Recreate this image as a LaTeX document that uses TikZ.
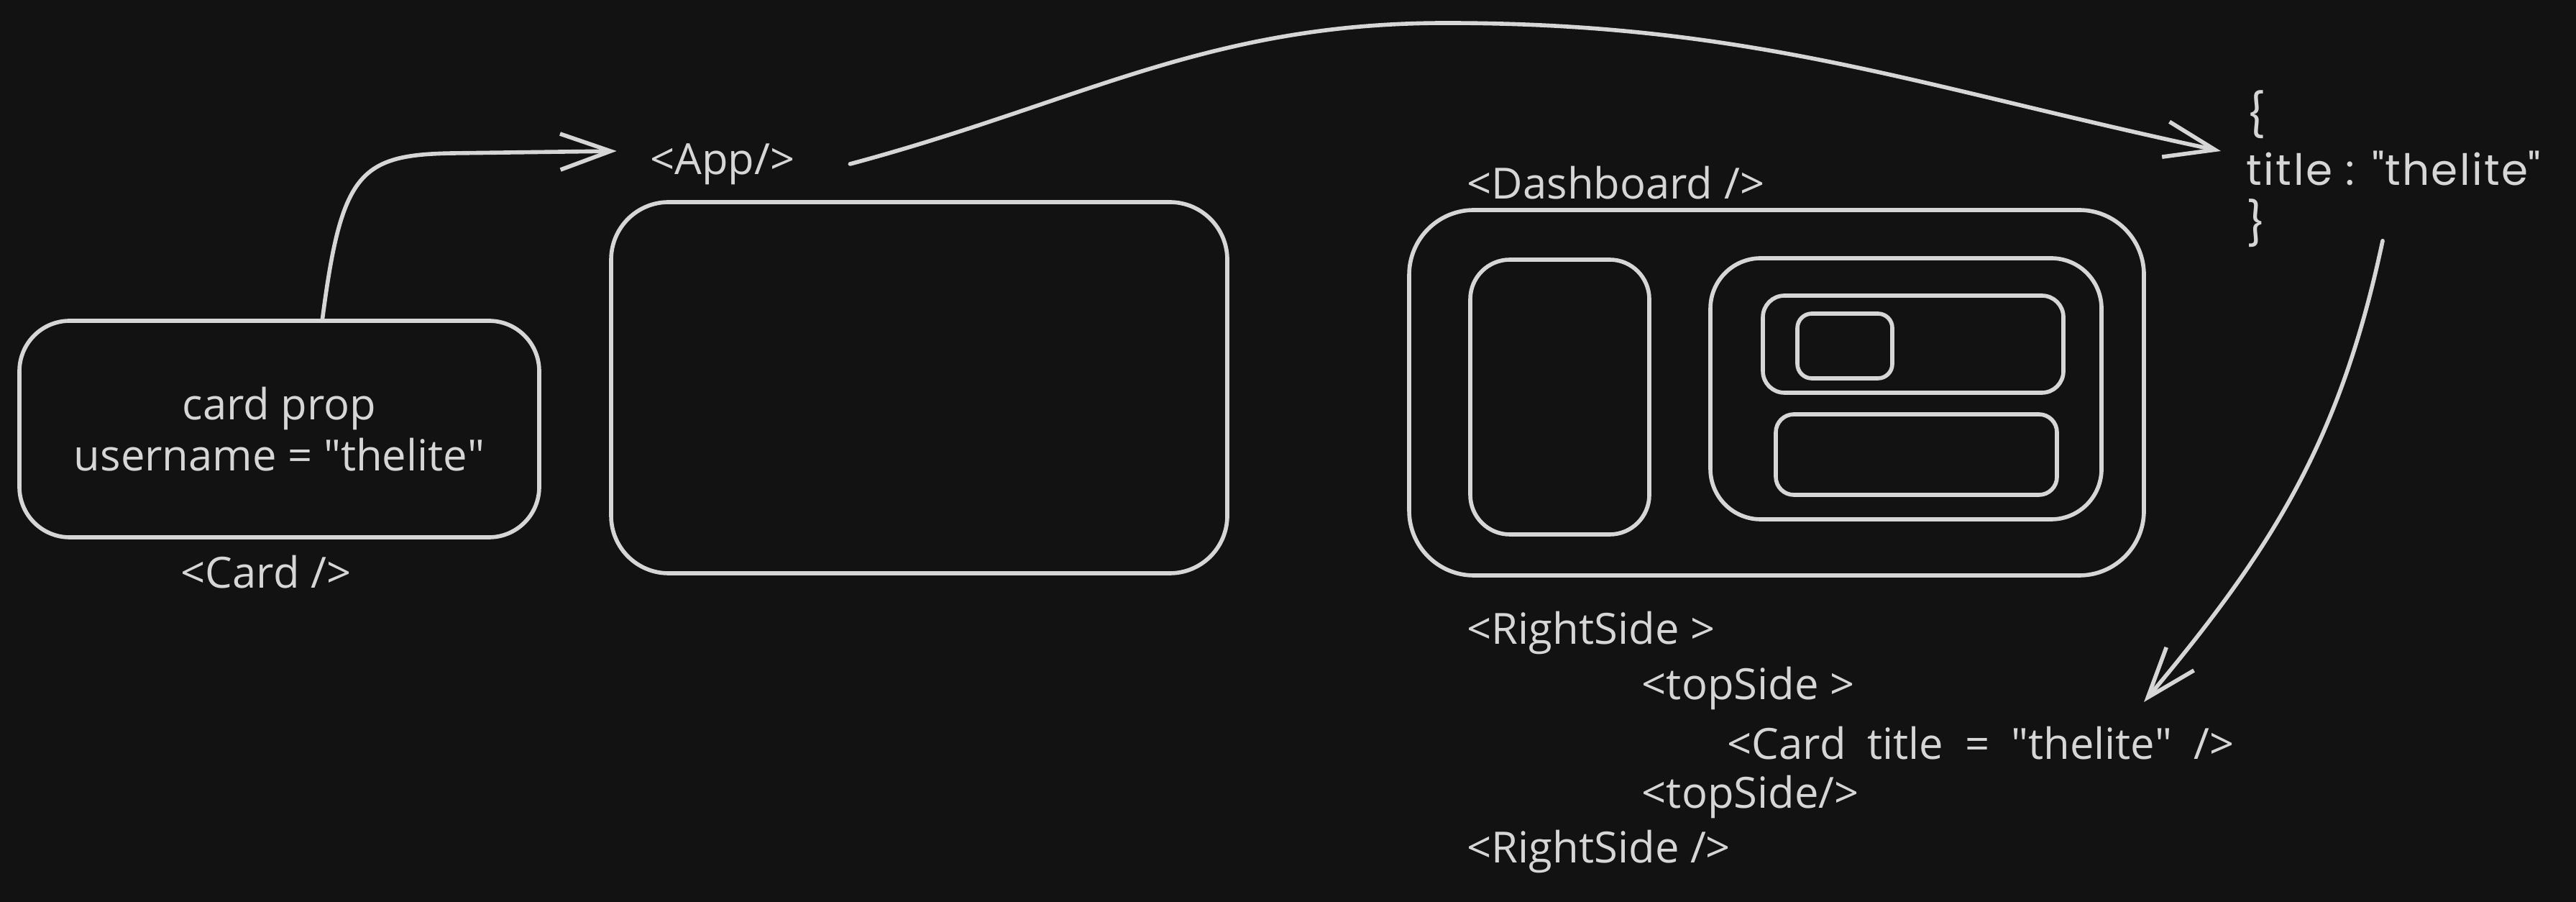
\documentclass[tikz,border=0pt]{standalone}
\usepackage{fontspec}
\setmainfont{Open Sans}[Ligatures=NoCommon]
\newfontfamily\jsonfont{Poppins}[LetterSpace=4]
\usepackage{tikz}
\usetikzlibrary{arrows.meta, positioning, calc}
\definecolor{sketchbg}{RGB}{18, 18, 18}
\definecolor{sketchink}{RGB}{214, 214, 214}
\newcommand{\quoted}[1]{\textquotedbl#1\textquotedbl}

\begin{document}
\begin{tikzpicture}[
    panel/.style={rectangle, rounded corners=#1, draw=sketchink, line width=1.6pt, inner sep=0pt},
    panel/.default=6mm,
    sketchtext/.style={text=sketchink, font=\fontsize{17}{20}\selectfont, inner sep=0pt},
    arr/.style={-{Straight Barb[length=7mm, width=5mm, line width=1.6pt]}, draw=sketchink, line width=1.6pt, line cap=round, line join=round}
]

\fill[sketchbg] (0, 0) rectangle (35.83, -12.54);
\useasboundingbox (0, 0) rectangle (35.83, -12.54);

% card component
\node[panel=7mm, minimum width=7.23cm, minimum height=3.01cm, sketchtext, align=center] (card) at (3.885, -5.965) {card prop\\username = \quoted{thelite}};
\node[sketchtext] (cardlabel) at (3.70, -7.95) {<Card />};

% app
\node[panel=8mm, minimum width=8.57cm, minimum height=5.16cm] (app) at (12.785, -5.39) {};
\node[sketchtext] (applabel) at (10.05, -2.28) {<App/>};

% dashboard and its panes
\node[panel=9mm, minimum width=10.22cm, minimum height=5.08cm] (dash) at (24.71, -5.46) {};
\node[sketchtext, anchor=west] (dashlabel) at (20.40, -2.54) {<Dashboard />};
\node[panel=5.5mm, minimum width=2.49cm, minimum height=3.82cm] (leftpane) at (21.695, -5.52) {};
\node[panel=7mm, minimum width=5.44cm, minimum height=3.63cm] (rightpane) at (26.51, -5.405) {};
\node[panel=3mm, minimum width=4.18cm, minimum height=1.35cm] (toppane) at (26.61, -4.785) {};
\node[panel=2mm, minimum width=1.32cm, minimum height=0.90cm] (smallbox) at (25.66, -4.81) {};
\node[panel=2.5mm, minimum width=3.91cm, minimum height=1.12cm] (bottompane) at (26.655, -6.32) {};

% props object
\node[sketchtext, align=left, anchor=west, font=\jsonfont\fontsize{17}{21.5}\selectfont] (json) at (31.24, -2.35) {\{\\title : \quoted{thelite}\\\}};

% nesting
\node[sketchtext, anchor=west] (rightopen) at (20.40, -8.80) {<RightSide >};
\node[sketchtext, anchor=west] (topopen) at (22.83, -9.57) {<topSide >};
\node[sketchtext, anchor=west, font={\fontsize{17}{20}\selectfont\spaceskip=0.5em\relax}] (cardtag) at (24.02, -10.33) {<Card title = \quoted{thelite} />};
\node[sketchtext, anchor=west] (topclose) at (22.83, -11.08) {<topSide/>};
\node[sketchtext, anchor=west] (rightclose) at (20.40, -11.84) {<RightSide />};

\coordinate (crest) at (20.11, -0.32);
\coordinate (drop) at (29.82, -9.76);

\draw[arr] ([xshift=6mm]card.north) .. controls (4.75, -2.4) and (5.0, -2.15) .. (6.3, -2.13) -- ([xshift=-4.6mm, yshift=1.8mm]applabel.west);
\draw[arr] ([xshift=7.6mm]applabel.east) to[out=15, in=180] (crest) to[out=0, in=168] ([xshift=-3.5mm, yshift=2.5mm]json.west);
\draw[arr] ([xshift=1.9cm, yshift=1mm]json.south west) to[out=-102, in=50] (drop);

\end{tikzpicture}
\end{document}
